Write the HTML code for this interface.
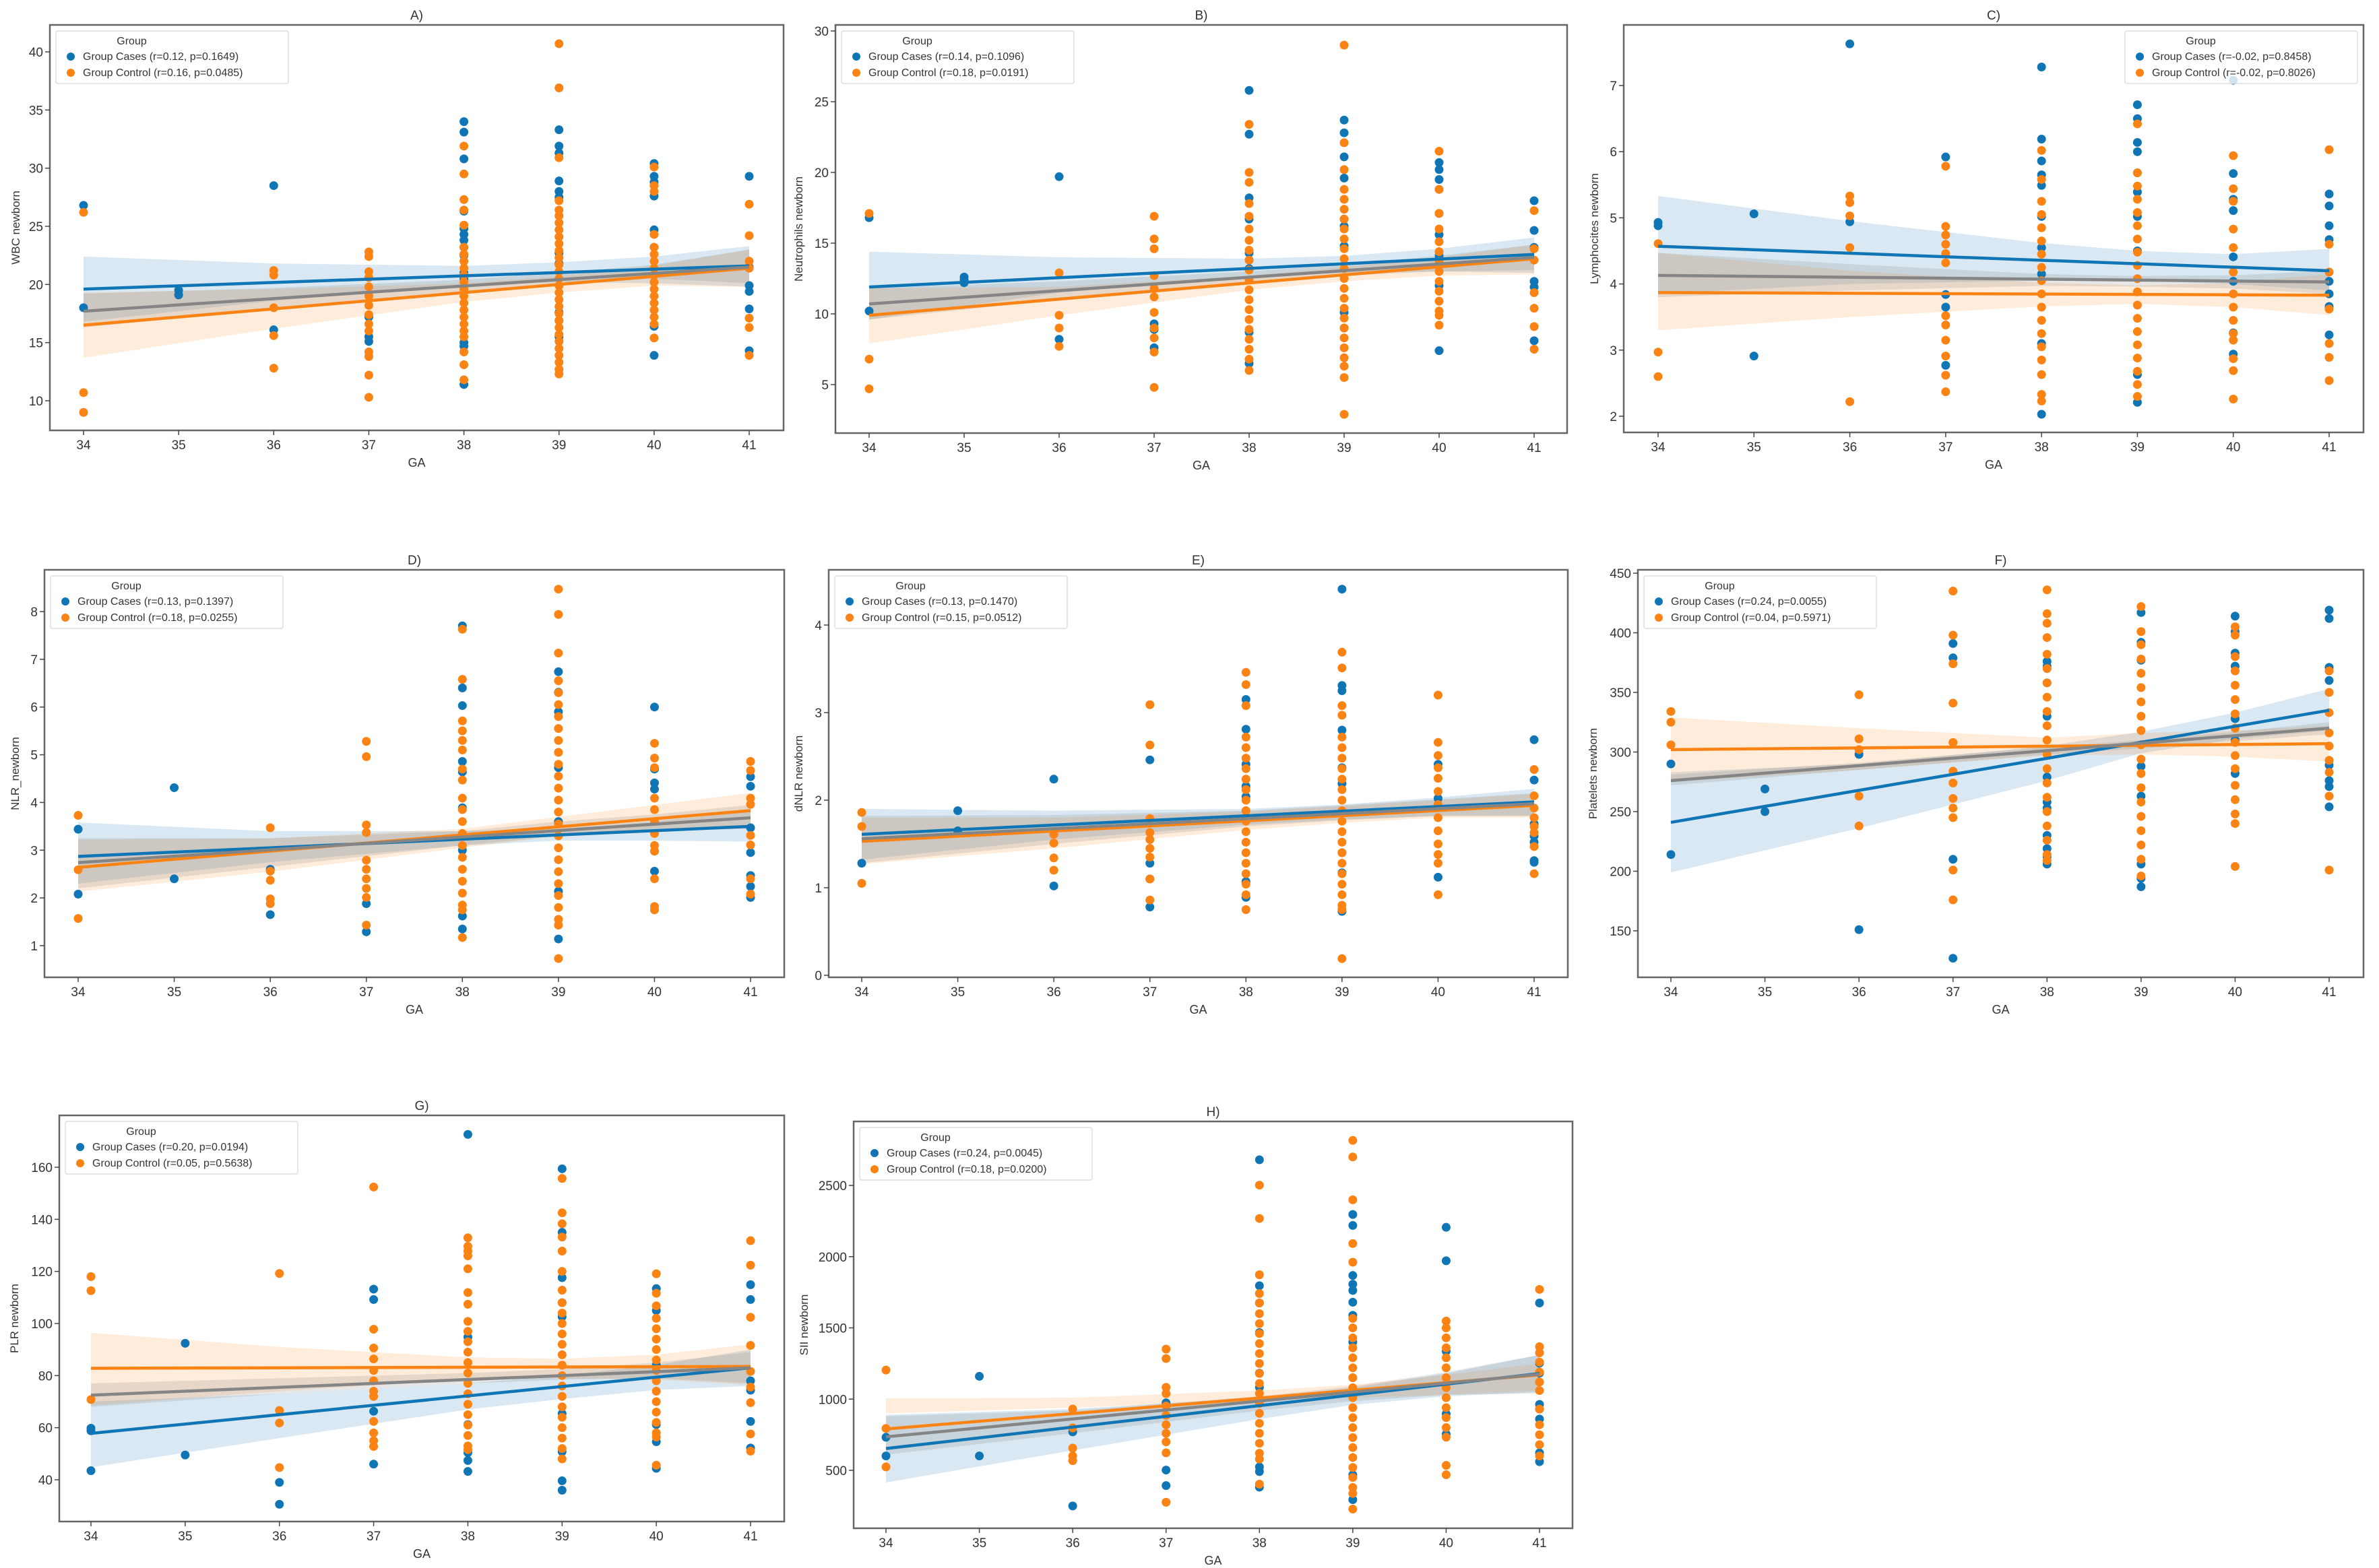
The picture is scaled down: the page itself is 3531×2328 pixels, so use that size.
<!DOCTYPE html>
<html><head><meta charset="utf-8"><title>GA correlations</title>
<style>html,body{margin:0;padding:0;background:#fff}svg{display:block}text{font-family:"Liberation Sans",sans-serif;fill:#333}</style>
</head><body>
<svg id="fig" width="3531" height="2328" viewBox="0 0 3531 2328" xmlns="http://www.w3.org/2000/svg"></svg>
<script>
const gaTicks=[34,35,36,37,38,39,40,41];
const bandGA=[34,36,38,39,40,41];
// ---- A) WBC ----
const A_cases=[[26.8,18.0],[19.5,19.1],[28.5,16.1],[17.2,15.5,15.1],[34.0,33.1,30.8,26.3,24.8,24.3,23.8,23.2,22.5,21.0,20.5,15.0,14.7,11.4],[33.3,31.9,31.3,28.9,28.0,27.5,22.7,21.8,17.6,16.9,15.5],[30.4,29.3,28.8,27.6,24.7,23.2,16.4,13.9],[29.3,21.5,19.9,19.4,17.9,14.3]];
const A_control=[[26.2,10.7,9.0],[],[21.2,20.8,18.0,15.6,12.8],[22.8,22.4,21.1,20.6,19.8,19.0,18.2,17.4,16.6,16.0,14.2,13.8,12.2,10.3],[31.9,29.5,27.3,26.4,25.1,23.2,22.6,22.0,21.4,20.8,20.2,19.6,19.0,18.4,17.8,17.2,16.6,16.0,15.5,14.2,13.1,11.8],[40.7,36.9,30.9,27.2,26.4,25.9,25.3,24.7,24.1,23.5,22.9,22.3,21.7,21.1,20.5,19.9,19.3,18.7,18.1,17.5,16.9,16.3,15.7,15.1,14.5,13.9,13.3,12.7,12.3],[30.1,28.5,28.0,24.3,23.2,22.6,22.0,21.4,20.8,20.2,19.6,19.0,18.4,17.8,17.2,16.6,15.4],[26.9,24.2,22.0,21.4,17.1,16.3,13.9]];
const A_fits=[[19.6,21.6],[16.5,21.4],[17.7,21.5]];
const A_bandCases=[[16.8,18.6,19.9,20.2,20.1,19.8],[22.4,21.8,21.6,21.9,22.4,23.3]];
const A_bandControl=[[13.7,16.2,18.5,19.3,19.9,19.8],[19.3,19.6,20.1,20.7,21.6,23.0]];
const A_bandAll=[[16.3,17.9,19.4,20.0,20.5,20.1],[19.2,19.7,20.4,21.0,21.7,23.0]];
const A_yTicks=[10,15,20,25,30,35,40];
// ---- B) Neutrophils ----
const B_cases=[[16.8,10.2],[12.6,12.4,12.2],[19.7,8.2],[9.3,8.9,7.6],[25.8,22.7,18.2,16.7,14.3,13.8,13.2,8.7,6.5],[23.7,22.8,21.1,19.6,16.7,16.2,14.8,10.1,9.0],[20.7,20.2,19.5,18.8,17.1,15.6,14.1,12.0,7.4],[18.0,15.9,14.7,12.3,11.9,8.1]];
const B_control=[[17.1,6.8,4.7],[],[12.9,9.9,9.0,7.7],[16.9,15.3,14.6,12.7,11.8,11.2,10.1,9.0,8.3,7.3,4.8],[23.4,20.0,19.3,17.8,16.9,16.0,15.2,14.5,13.8,13.1,12.4,11.7,11.0,10.3,9.6,8.9,8.2,7.5,6.8,6.0],[29.0,22.1,20.2,18.8,18.1,17.4,16.7,16.0,15.3,14.6,13.9,13.2,12.5,11.8,11.1,10.4,9.7,9.0,8.3,7.6,6.9,6.3,5.5,2.9],[21.5,18.8,17.1,16.0,15.1,14.4,13.7,13.0,12.3,11.6,10.9,10.2,9.9,9.2],[17.3,14.6,13.8,11.5,10.4,9.1,7.5]];
const B_fits=[[11.9,14.2],[9.9,13.9],[10.7,14.0]];
const B_bandCases=[[9.6,11.5,12.6,12.9,13.0,12.9],[14.4,14.0,13.9,14.1,14.6,15.4]];
const B_bandControl=[[7.9,9.9,11.7,12.3,12.7,12.8],[11.8,11.9,12.7,13.3,14.0,14.9]];
const B_bandAll=[[9.6,11.0,12.2,12.7,13.0,13.1],[11.8,12.3,13.0,13.5,14.1,14.9]];
const B_yTicks=[5,10,15,20,25,30];
// ---- C) Lymphocites ----
const C_cases=[[4.93,4.88],[5.06,2.91],[7.63,4.94],[5.92,3.84,3.65,2.77],[7.28,6.19,5.86,5.65,5.49,5.02,4.55,4.15,3.10,2.03],[6.71,6.50,6.14,6.00,5.68,5.39,5.02,4.5,2.63,2.21],[7.08,5.67,5.28,5.11,4.41,4.04,3.26,2.94],[5.36,5.18,4.88,4.67,4.04,3.85,3.66,3.23]];
const C_control=[[4.61,2.97,2.60],[],[5.33,5.23,5.03,4.55,2.22],[5.78,4.87,4.74,4.60,4.46,4.32,3.52,3.38,3.15,2.91,2.62,2.37],[6.02,5.58,5.25,5.05,4.85,4.65,4.45,4.25,4.05,3.85,3.65,3.45,3.25,3.05,2.85,2.63,2.33,2.23],[6.42,5.68,5.48,5.28,5.08,4.88,4.68,4.48,4.28,4.08,3.88,3.68,3.48,3.28,3.08,2.88,2.68,2.48,2.30],[5.94,5.44,5.25,4.83,4.55,4.18,3.85,3.65,3.45,3.25,3.15,2.87,2.69,2.26],[6.03,4.60,4.18,3.62,3.10,2.89,2.54]];
const C_fits=[[4.57,4.20],[3.87,3.83],[4.13,4.03]];
const C_bandCases=[[3.85,4.0,4.05,4.05,4.0,3.9],[5.33,4.95,4.62,4.5,4.45,4.53]];
const C_bandControl=[[3.3,3.5,3.66,3.7,3.65,3.53],[4.47,4.2,4.02,3.98,4.02,4.15]];
const C_bandAll=[[3.8,3.9,3.97,3.96,3.93,3.85],[4.47,4.3,4.15,4.12,4.13,4.2]];
const C_yTicks=[2,3,4,5,6,7];
// ---- D) NLR ----
const D_cases=[[3.44,2.08],[4.31,2.40],[2.6,1.65],[1.88,1.29],[7.70,6.40,6.03,4.86,4.64,3.89,3.0,1.62,1.35],[6.74,6.31,5.90,4.73,3.60,2.14,1.14],[6.0,4.70,4.41,4.28,2.98,2.56],[4.54,4.34,3.47,2.95,2.47,2.24,2.01]];
const D_control=[[3.73,2.59,1.57],[],[3.47,2.56,2.37,1.98,1.88],[5.28,4.96,3.53,3.37,2.79,2.6,2.4,2.2,2.01,1.43],[7.63,6.58,5.71,5.50,5.30,5.10,4.70,4.47,4.09,3.85,3.6,3.35,3.1,2.85,2.6,2.35,2.1,1.85,1.75,1.17],[8.47,7.94,7.13,6.55,6.3,6.05,5.8,5.55,5.3,5.05,4.8,4.55,4.3,4.05,3.8,3.55,3.3,3.05,2.8,2.55,2.3,2.05,1.8,1.55,1.43,0.73],[5.24,4.93,4.73,4.09,3.85,3.6,3.35,3.1,2.98,2.40,1.82,1.75],[4.86,4.67,4.09,3.96,3.31,3.11,2.40,2.08]];
const D_fits=[[2.87,3.50],[2.64,3.83],[2.74,3.68]];
const D_bandCases=[[2.3,2.75,3.1,3.2,3.2,3.18],[3.58,3.4,3.4,3.45,3.6,3.82]];
const D_bandControl=[[2.13,2.55,3.05,3.3,3.45,3.45],[3.22,3.25,3.45,3.7,3.95,4.2]];
const D_bandAll=[[2.2,2.65,3.1,3.3,3.4,3.45],[3.25,3.25,3.4,3.6,3.75,3.95]];
const D_yTicks=[1,2,3,4,5,6,7,8];
// ---- E) dNLR ----
const E_cases=[[1.28],[1.88,1.65],[2.24,1.02],[2.46,1.28,1.10,0.78],[3.15,2.81,2.41,2.16,2.04,1.8,1.07,0.89],[4.41,3.31,3.25,2.80,2.37,2.19,1.4,1.17,0.73],[2.41,2.02,1.12],[2.69,2.23,1.73,1.59,1.52,1.31,1.29]];
const E_control=[[1.86,1.70,1.05],[],[1.61,1.51,1.34,1.20],[3.09,2.63,1.79,1.63,1.55,1.45,1.35,1.10,0.86],[3.46,3.32,3.08,2.72,2.6,2.48,2.36,2.24,2.12,2.0,1.88,1.76,1.64,1.52,1.40,1.28,1.16,1.04,0.92,0.75],[3.69,3.51,3.08,2.97,2.72,2.6,2.48,2.36,2.24,2.12,2.0,1.88,1.76,1.64,1.52,1.40,1.28,1.16,1.04,0.92,0.80,0.75,0.19],[3.20,2.66,2.51,2.37,2.25,2.1,1.95,1.8,1.65,1.5,1.38,1.28,0.92],[2.35,2.05,1.91,1.8,1.7,1.63,1.47,1.16]];
const E_fits=[[1.61,1.98],[1.53,1.94],[1.56,1.96]];
const E_bandCases=[[1.32,1.55,1.72,1.78,1.82,1.82],[1.9,1.88,1.9,1.95,2.03,2.13]];
const E_bandControl=[[1.27,1.45,1.66,1.74,1.8,1.8],[1.8,1.8,1.87,1.93,2.0,2.07]];
const E_bandAll=[[1.28,1.5,1.7,1.77,1.82,1.82],[1.82,1.83,1.88,1.94,2.01,2.08]];
const E_yTicks=[0,1,2,3,4];
// ---- F) Platelets ----
const F_cases=[[290,214],[269,250],[298,151],[391,379,210,127],[376,372,358,330,279,258,253,230,219,212,206],[417,392,377,288,263,206,194,187],[414,401,383,372,328,310,282],[419,412,371,360,289,276,271,254]];
const F_control=[[334,325,306],[],[348,311,302,263,238],[435,398,374,341,308,284,274,261,253,245,201,176],[436,416,408,396,382,370,358,346,334,322,310,298,286,274,262,250,238,226,214,209],[422,401,390,378,366,354,342,330,318,306,294,282,270,258,246,234,222,210,196],[405,398,380,368,356,344,332,320,308,297,286,272,260,248,240,204],[368,350,333,316,305,293,283,263,201]];
const F_fits=[[241,335],[302,307],[276,320]];
const F_bandCases=[[199,236,276,299,311,318],[283,290,305,317,333,353]];
const F_bandControl=[[275,285,297,298,296,292],[329,320,312,316,318,322]];
const F_bandAll=[[272,285,298,303,309,315],[281,291,304,310,317,325]];
const F_yTicks=[150,200,250,300,350,400,450];
// ---- G) PLR ----
const G_cases=[[59.8,58.8,43.5],[92.4,49.5],[39.0,30.6],[113.2,109.2,66.3,46.0],[172.6,94.8,61.2,50.4,47.4,43.2],[159.4,135.0,117.6,108.0,102.6,65.4,50.8,39.6,36.0],[113.4,105.0,84.0,61.2,54.6,44.4],[114.9,109.2,78.0,74.4,62.4,52.2]];
const G_control=[[118.0,112.6,70.8],[],[119.2,66.6,61.8,44.7],[152.4,97.8,90.6,86.4,82,78,74,72.0,62.4,58,55,52.8],[132.9,129.6,127.8,126,121,111.9,107.4,100.8,97,93,89,85,81,77,73,69,65,61,57,53,51.6],[155.7,142.5,138.3,133.2,127.8,120,112.8,108,104,100,96,92,88,84,80,76,72,68,64,60,56,52,48],[119.1,111.6,106.8,102,98,94,90,86,82,78,74,70,66,62,58,56.4,45.6],[131.8,122.4,102.4,91.6,81.6,75.6,69.6,57.6,51]];
const G_fits=[[57.8,83],[82.8,83.5],[72.5,83]];
const G_bandCases=[[44.8,56,67,71,74.5,76],[70,73,77,80,84,90]];
const G_bandControl=[[68.5,74,78.5,79,78.5,76.5],[96.4,91,87,86.5,88,92]];
const G_bandAll=[[68,73,77,78.5,79,77],[77,79,81,82.5,85,89]];
const G_yTicks=[40,60,80,100,120,140,160];
// ---- H) SII ----
const H_cases=[[732,601],[1160,601],[770,250],[974,502,393],[2680,1796,1675,1467,1182,1083,524,491,382],[2296,2219,1868,1807,1763,1680,1588,1401,1150,469,294],[2206,1971,1336,897,754],[1675,1252,1182,963,930,860,623,561]];
const H_control=[[1204,794,524],[],[930,798,656,601,568],[1351,1285,1083,1039,952,886,820,760,700,623,276],[2502,2268,1873,1741,1675,1600,1530,1460,1390,1320,1250,1180,1110,1040,970,900,830,760,690,620,579,403],[2816,2700,2399,2092,1961,1566,1500,1430,1360,1290,1220,1150,1080,1010,940,870,800,730,660,590,520,450,380,338,228],[1548,1500,1430,1360,1290,1220,1150,1080,1010,940,870,800,733,535,469],[1770,1368,1325,1260,1190,1120,1060,930,820,750,680,601]];
const H_fits=[[653,1180],[790,1170],[735,1175]];
const H_bandCases=[[415,640,860,960,1020,1050],[890,930,1010,1080,1180,1310]];
const H_bandControl=[[900,940,990,1010,1030,1060],[1005,1010,1060,1100,1170,1250]];
const H_bandAll=[[610,760,920,985,1030,1040],[880,920,1020,1090,1190,1310]];
const H_yTicks=[500,1000,1500,2000,2500];

const panels=[
 {id:'a',title:'A)',ylabel:'WBC newborn',cases:A_cases,control:A_control,fits:A_fits,bc:A_bandCases,bo:A_bandControl,ba:A_bandAll,ticks:A_yTicks,leg:['Group Cases (r=0.12, p=0.1649)','Group Control (r=0.16, p=0.0485)'],
  L:74,R:1163,T:37,B:639,x0:124,x1:1112,ya:[40,77],yb:[10,595],legRight:false,yo:45},
 {id:'b',title:'B)',ylabel:'Neutrophils newborn',cases:B_cases,control:B_control,fits:B_fits,bc:B_bandCases,bo:B_bandControl,ba:B_bandAll,ticks:B_yTicks,leg:['Group Cases (r=0.14, p=0.1096)','Group Control (r=0.18, p=0.0191)'],
  L:1240,R:2326,T:37,B:643,x0:1290,x1:2277,ya:[30,46],yb:[5,571],legRight:false,yo:49},
 {id:'c',title:'C)',ylabel:'Lymphocites newborn',cases:C_cases,control:C_control,fits:C_fits,bc:C_bandCases,bo:C_bandControl,ba:C_bandAll,ticks:C_yTicks,leg:['Group Cases (r=-0.02, p=0.8458)','Group Control (r=-0.02, p=0.8026)'],
  L:2410,R:3508,T:37,B:642,x0:2461,x1:3457,ya:[7,127],yb:[2,618],legRight:true,yo:38},
 {id:'d',title:'D)',ylabel:'NLR_newborn',cases:D_cases,control:D_control,fits:D_fits,bc:D_bandCases,bo:D_bandControl,ba:D_bandAll,ticks:D_yTicks,leg:['Group Cases (r=0.13, p=0.1397)','Group Control (r=0.18, p=0.0255)'],
  L:66,R:1164,T:846,B:1451,x0:116,x1:1114,ya:[8,908],yb:[1,1404],legRight:false,yo:38},
 {id:'e',title:'E)',ylabel:'dNLR newborn',cases:E_cases,control:E_control,fits:E_fits,bc:E_bandCases,bo:E_bandControl,ba:E_bandAll,ticks:E_yTicks,leg:['Group Cases (r=0.13, p=0.1470)','Group Control (r=0.15, p=0.0512)'],
  L:1230,R:2327,T:846,B:1451,x0:1279,x1:2277,ya:[4,928],yb:[0,1448],legRight:false,yo:39},
 {id:'f',title:'F)',ylabel:'Platelets newborn',cases:F_cases,control:F_control,fits:F_fits,bc:F_bandCases,bo:F_bandControl,ba:F_bandAll,ticks:F_yTicks,leg:['Group Cases (r=0.24, p=0.0055)','Group Control (r=0.04, p=0.5971)'],
  L:2431,R:3508,T:846,B:1451,x0:2480,x1:3457,ya:[450,851],yb:[150,1382],legRight:false,yo:61},
 {id:'g',title:'G)',ylabel:'PLR newborn',cases:G_cases,control:G_control,fits:G_fits,bc:G_bandCases,bo:G_bandControl,ba:G_bandAll,ticks:G_yTicks,leg:['Group Cases (r=0.20, p=0.0194)','Group Control (r=0.05, p=0.5638)'],
  L:88,R:1164,T:1656,B:2259,x0:135,x1:1114,ya:[160,1733],yb:[40,2197],legRight:false,yo:61},
 {id:'h',title:'H)',ylabel:'SII newborn',cases:H_cases,control:H_control,fits:H_fits,bc:H_bandCases,bo:H_bandControl,ba:H_bandAll,ticks:H_yTicks,leg:['Group Cases (r=0.24, p=0.0045)','Group Control (r=0.18, p=0.0200)'],
  L:1267,R:2334,T:1665,B:2269,x0:1315,x1:2285,ya:[2500,1760],yb:[500,2183],legRight:false,yo:68}
];
const BLUE='#0f75b5',ORANGE='#fb8313',GRAY='#858585';
const NS='http://www.w3.org/2000/svg';
const svg=document.getElementById('fig');
function mk(tag,attrs,parent){const e=document.createElementNS(NS,tag);for(const k in attrs)e.setAttribute(k,attrs[k]);(parent||svg).appendChild(e);return e;}
const bg=mk('rect',{x:0,y:0,width:3531,height:2328,fill:'#fff'});



panels.forEach(p=>{
  const xs=v=>p.x0+(v-34)*(p.x1-p.x0)/7;
  const ys=v=>p.ya[1]+(v-p.ya[0])*(p.yb[1]-p.ya[1])/(p.yb[0]-p.ya[0]);
  const g=mk('g',{});
  
  
  const defs=mk('clipPath',{id:'clip-'+p.id},g);
  mk('rect',{x:p.L,y:p.T,width:p.R-p.L,height:p.B-p.T},defs);
  const plot=mk('g',{'clip-path':'url(#clip-'+p.id+')'},g);
  
  
  [[p.bc,'rgba(31,119,180,0.17)','ci-band-cases'],[p.bo,'rgba(255,127,14,0.15)','ci-band-control'],[p.ba,'rgba(120,120,120,0.18)','ci-band-overall']].forEach(([b,c,n])=>{
    let d='';
    bandGA.forEach((ga,i)=>{d+=(i?'L':'M')+xs(ga)+','+ys(b[1][i]);});
    for(let i=bandGA.length-1;i>=0;i--){d+='L'+xs(bandGA[i])+','+ys(b[0][i]);}
    const el=mk('path',{d:d+'Z',fill:c},plot);
    
    
  });
  [[p.cases,BLUE,'point-cases'],[p.control,ORANGE,'point-control']].forEach(([ser,col,n])=>{
    ser.forEach((vals,i)=>{vals.forEach(v=>{
      const c=mk('circle',{cx:xs(gaTicks[i]),cy:ys(v),r:6.5,fill:col},plot);
      
      
    });});
  });
  [[p.fits[0],BLUE,'fit-line-cases'],[p.fits[1],ORANGE,'fit-line-control'],[p.fits[2],GRAY,'fit-line-overall']].forEach(([f,col,n])=>{
    const l=mk('line',{x1:xs(34),y1:ys(f[0]),x2:xs(41),y2:ys(f[1]),stroke:col,'stroke-width':4.5},plot);
    
    
  });
  const fr=mk('rect',{x:p.L,y:p.T,width:p.R-p.L,height:p.B-p.T,fill:'none',stroke:'#666','stroke-width':2.5},g);
  
  
  gaTicks.forEach(t=>{
    const tk=mk('line',{x1:xs(t),y1:p.B,x2:xs(t),y2:p.B+7,stroke:'#444','stroke-width':1.5},g);
    
    
    const tx=mk('text',{x:xs(t),y:p.B+28,'text-anchor':'middle','font-size':19},g);
    tx.textContent=t;
    
    
  });
  p.ticks.forEach(t=>{
    const tk=mk('line',{x1:p.L-7,y1:ys(t),x2:p.L,y2:ys(t),stroke:'#444','stroke-width':1.5},g);
    
    
    const tx=mk('text',{x:p.L-10,y:ys(t)+7,'text-anchor':'end','font-size':19},g);
    tx.textContent=t;
    
    
  });
  const xt=mk('text',{x:(p.L+p.R)/2,y:p.B+54,'text-anchor':'middle','font-size':18},g);
  xt.textContent='GA';
  
  
  const cy=(p.T+p.B)/2, cx=p.L-p.yo;
  const yt=mk('text',{x:cx,y:cy,'text-anchor':'middle','font-size':17,transform:'rotate(-90 '+cx+' '+cy+')'},g);
  yt.textContent=p.ylabel;
  
  
  const tt=mk('text',{x:(p.L+p.R)/2,y:p.T-8,'text-anchor':'middle','font-size':19},g);
  tt.textContent=p.title;
  
  
  const lw=345,lh=78;
  const lx=p.legRight?p.R-9-lw:p.L+9, ly=p.T+9;
  const lg=mk('g',{},g);
  
  
  mk('rect',{x:lx,y:ly,width:lw,height:lh,fill:'rgba(255,255,255,0.8)',stroke:'#ddd','stroke-width':1.5,rx:3},lg);
  const lt=mk('text',{x:lx+lw/2-60,y:ly+20,'text-anchor':'middle','font-size':16},lg);
  lt.textContent='Group';
  
  
  [[BLUE,p.leg[0]],[ORANGE,p.leg[1]]].forEach(([col,txt],i)=>{
    const yy=ly+43+i*24;
    const m=mk('circle',{cx:lx+22,cy:yy-5,r:6,fill:col},lg);
    
    
    const t=mk('text',{x:lx+40,y:yy,'font-size':16},lg);
    t.textContent=txt;
    
    
  });
});
</script>
</body></html>
